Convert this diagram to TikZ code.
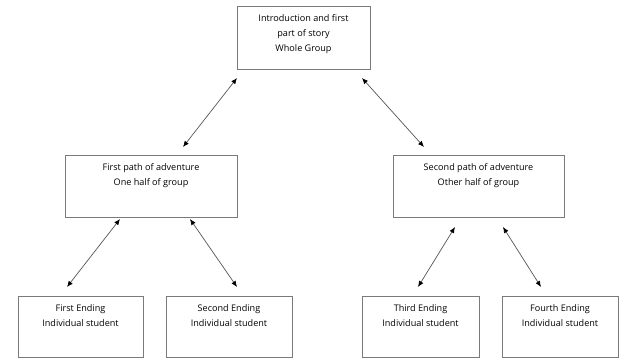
\documentclass[tikz,border=0pt]{standalone}
\usepackage{fontspec}
\setmainfont{Open Sans}
\usetikzlibrary{arrows.meta}
\definecolor{frame}{HTML}{7A7A7A}
\definecolor{lineg}{HTML}{555555}
\tikzset{
  box/.style={draw=frame, line width=0.9pt, rectangle, inner sep=0pt, outer sep=0pt, fill=white},
  lbl/.style={anchor=north, align=center, inner sep=0pt, font=\fontsize{9.1}{15}\selectfont},
  arr/.style={draw=lineg, line width=0.7pt, {Latex[length=6pt,width=5pt,black]}-{Latex[length=6pt,width=5pt,black]}}
}
\begin{document}
\begin{tikzpicture}[x=1pt,y=-1pt]
\useasboundingbox (0,0) rectangle (619,358);
\node[box, minimum width=133pt, minimum height=63pt] (top) at (303.5,37.5) {};
\node[box, minimum width=172pt, minimum height=62pt] (L) at (151,186) {};
\node[box, minimum width=171pt, minimum height=62pt] (R) at (478.5,186) {};
\node[box, minimum width=125pt, minimum height=61pt] (e1) at (80.5,326.5) {};
\node[box, minimum width=126pt, minimum height=61pt] (e2) at (229,326.5) {};
\node[box, minimum width=117pt, minimum height=61pt] (e3) at (420.5,326.5) {};
\node[box, minimum width=116pt, minimum height=61pt] (e4) at (560,326.5) {};

\node[lbl] (ttop) at ([yshift=-8pt]top.north) {Introduction and first\\part of story\\Whole Group};
\node[lbl] (tL) at ([yshift=-8pt]L.north) {First path of adventure\\One half of group};
\node[lbl] (tR) at ([yshift=-8pt]R.north) {Second path of adventure\\Other half of group};
\node[lbl] (te1) at ([yshift=-8pt]e1.north) {First Ending\\Individual student};
\node[lbl] (te2) at ([yshift=-8pt]e2.north) {Second Ending\\Individual student};
\node[lbl] (te3) at ([yshift=-8pt]e3.north) {Third Ending\\Individual student};
\node[lbl] (te4) at ([yshift=-8pt]e4.north) {Fourth Ending\\Individual student};

\draw[arr] ([yshift=-9pt]top.south west) -- ([xshift=32pt,yshift=8pt]L.north);
\draw[arr] ([xshift=-8pt,yshift=-9pt]top.south east) -- ([xshift=-54.5pt,yshift=8pt]R.north);
\draw[arr] ([xshift=-31pt,yshift=-2pt]L.south) -- ([xshift=-13.5pt,yshift=9pt]e1.north);
\draw[arr] ([xshift=39pt,yshift=-2pt]L.south) -- ([xshift=8pt,yshift=9pt]e2.north);
\draw[arr] ([xshift=-23.5pt,yshift=-10pt]R.south) -- ([xshift=-2.5pt,yshift=9pt]e3.north);
\draw[arr] ([xshift=24.5pt,yshift=-10pt]R.south) -- ([xshift=-19pt,yshift=9pt]e4.north);
\end{tikzpicture}
\end{document}
